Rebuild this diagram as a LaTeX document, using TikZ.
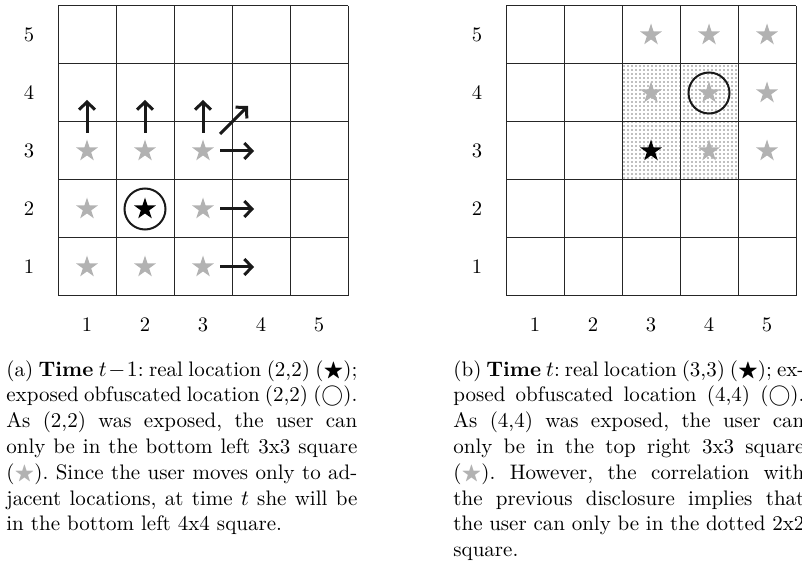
\documentclass[tikz,border=0pt]{standalone}
\usepackage{amssymb}
\usetikzlibrary{shapes.geometric,patterns.meta,arrows.meta}
\definecolor{stargray}{gray}{0.70}
\newcommand{\capsetup}{\frenchspacing\tolerance=9999\hyphenpenalty=10000\emergencystretch=5pt}
\begin{document}
\begin{tikzpicture}[x=0.5pt,y=-0.5pt,
  gridline/.style={line width=0.5pt, draw=black!85},
  gstar/.style={star, star points=5, star point ratio=2.6, fill=stargray, draw=none, minimum size=11.5pt, inner sep=0pt},
  bstar/.style={gstar, fill=black},
  ring/.style={circle, draw=black!90, line width=1pt, minimum size=20.5pt, inner sep=0pt},
  lbl/.style={font=\fontsize{10.3}{12}\selectfont, inner sep=0pt},
  mv/.style={line width=1.5pt, draw=black!90, -{Straight Barb[length=3.8pt,width=8pt]}},
  dotfill/.style={pattern={Dots[distance=2pt,radius=0.4pt]}, pattern color=black!50},
  capbox/.style={anchor=north west, inner sep=0pt, text width=175.5pt, align=justify, font=\fontsize{10.5}{12.9}\selectfont}
]
\useasboundingbox (0,0) rectangle (802,566);

% ---------- left grid ----------
\foreach \k in {0,...,5} {
  \draw[gridline] (58+58*\k,6) -- (58+58*\k,296);
  \draw[gridline] (58,6+58*\k) -- (348,6+58*\k);
}
\foreach \j in {1,...,5} {
  \node[lbl] (lrow\j) at (29,325-58*\j) {\j};
  \node[lbl] (lcol\j) at (29+58*\j,325) {\j};
}
\foreach \i/\j in {1/1,2/1,3/1,1/2,3/2,1/3,2/3,3/3}
  \node[gstar] (a\i\j) at (29+58*\i,325-58*\j) {};
\node[bstar] (a22) at (145,209) {};
\node[ring] (aring) at (145,209) {};

\foreach \i in {1,2,3} {
  \coordinate (up\i s) at (29+58*\i,133);
  \coordinate (up\i e) at (29+58*\i,100);
  \draw[mv] (up\i s) -- (up\i e);
}
\coordinate (dgs) at (220,134);
\coordinate (dge) at (248,106);
\draw[mv] (dgs) -- (dge);
\foreach \j in {1,2,3} {
  \coordinate (rt\j s) at (220,325-58*\j);
  \coordinate (rt\j e) at (254,325-58*\j);
  \draw[mv] (rt\j s) -- (rt\j e);
}

% ---------- right grid ----------
\fill[dotfill] (622,64) rectangle (738,180);
\foreach \k in {0,...,5} {
  \draw[gridline] (506+58*\k,6) -- (506+58*\k,296);
  \draw[gridline] (506,6+58*\k) -- (796,6+58*\k);
}
\foreach \j in {1,...,5} {
  \node[lbl] (rrow\j) at (477,325-58*\j) {\j};
  \node[lbl] (rcol\j) at (477+58*\j,325) {\j};
}
\foreach \i/\j in {3/5,4/5,5/5,3/4,4/4,5/4,4/3,5/3}
  \node[gstar] (b\i\j) at (477+58*\i,325-58*\j) {};
\node[bstar] (b33) at (651,151) {};
\node[ring] (bring) at (709,93) {};

% ---------- captions ----------
\node[capbox] (capa) at (6,360) {\capsetup
(a) \textbf{Time} $t-1$: real location (2,2) ($\bigstar$);\linebreak
exposed obfuscated location (2,2) ($\bigcirc$).\linebreak
As (2,2) was exposed, the user can\linebreak
only be in the bottom left 3x3 square\linebreak
({\color{stargray}$\bigstar$}). Since the user moves only to ad-\linebreak
jacent locations, at time $t$ she will be\linebreak
in the bottom left 4x4 square.};

\node[capbox] (capb) at (453,360) {\capsetup
(b) \textbf{Time} $t$: real location (3,3) ($\bigstar$); ex-\linebreak
posed obfuscated location (4,4) ($\bigcirc$).\linebreak
As (4,4) was exposed, the user can\linebreak
only be in the top right 3x3 square\linebreak
({\color{stargray}$\bigstar$}). However, the correlation with\linebreak
the previous disclosure implies that\linebreak
the user can only be in the dotted 2x2\linebreak
square.};
\end{tikzpicture}
\end{document}
